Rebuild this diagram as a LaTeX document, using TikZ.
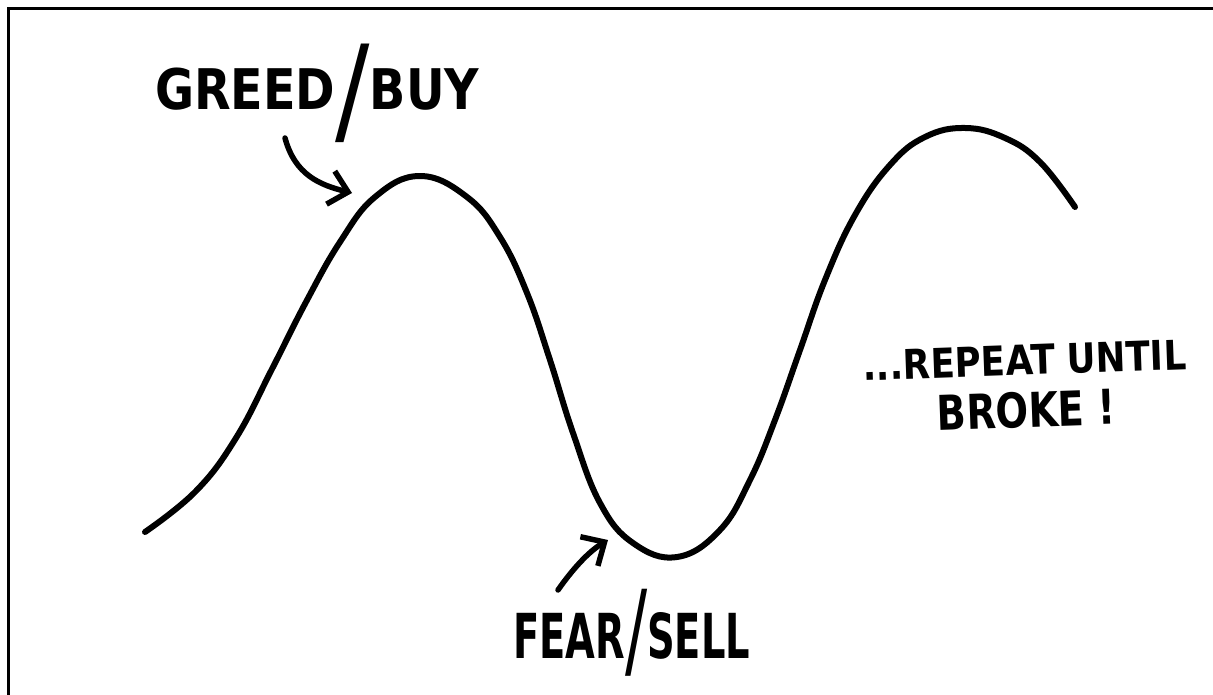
\documentclass[tikz,border=0pt]{standalone}
\usepackage{fontspec}
\usepackage{graphicx}
\newfontfamily\handfont{DejaVu Sans}
\usetikzlibrary{arrows.meta}
\begin{document}
\begin{tikzpicture}[x=1pt,y=-1pt,
  hand/.style={font=\handfont\bfseries, inner sep=0pt, anchor=base west},
  wave/.style={line width=6pt, line cap=round, line join=round},
  pointer/.style={line width=5.5pt, line cap=round, -{Straight Barb[length=18pt,width=34pt,line width=5.5pt]}},
  frameline/.style={line width=3pt}]
\useasboundingbox (0,0) rectangle (1213,695);
\fill[white] (0,0) rectangle (1213,695);
\draw[frameline] (8,695) -- (8,9) -- (1213,9);

\draw[wave] plot[smooth, tension=0.7] coordinates {
 (145,532) (196,491) (236,438) (272,369) (306,302) (340,242) (375,197) (420,176)
 (467,197) (500,237) (527,293) (550,360) (573,433) (600,503) (633,543) (677,557)
 (720,530) (750,480) (775,420) (800,350) (825,280) (855,215) (890,165) (925,137)
 (965,128) (1005,138) (1040,162) (1075,207)};

\node[hand] (greed) at (155,110) {\scalebox{0.85}[1]{\fontsize{56}{60}\selectfont GREED\raisebox{-22pt}{\mdseries\fontsize{120}{120}\selectfont/}BUY}};
\node[hand] (fear) at (513,658) {\scalebox{0.62}[1]{\fontsize{62}{70}\selectfont FEAR\raisebox{-8pt}{\mdseries\fontsize{106}{106}\selectfont/}SELL}};
\node[hand, rotate=2, align=center, anchor=north] (repeat) at (1024,345) {\scalebox{0.87}[1]{\fontsize{41}{45}\selectfont ...REPEAT UNTIL}\\[15pt]\scalebox{0.8}[1]{\fontsize{48}{52}\selectfont BROKE !}};

\coordinate (g1) at (285,138);
\coordinate (g2) at (352,193);
\coordinate (f1) at (558,590);
\coordinate (f2) at (608,540);
\draw[pointer] (g1) .. controls (295,175) and (320,185) .. (g2);
\draw[pointer] (f1) .. controls (572,570) and (588,552) .. (f2);
\end{tikzpicture}
\end{document}
